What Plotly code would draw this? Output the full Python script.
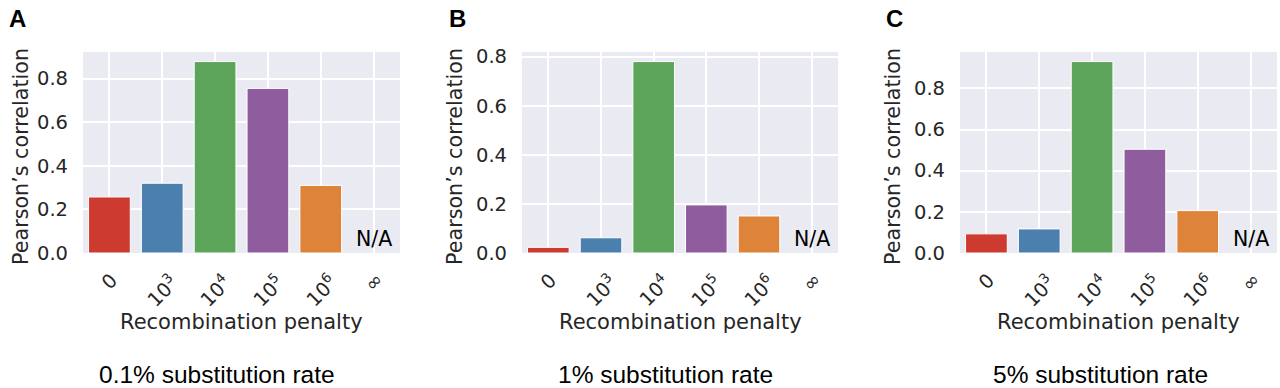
import plotly.graph_objects as go

categories = ["c0", "c1e3", "c1e4", "c1e5", "c1e6", "cinf"]
tick_labels = ["0", "10<sup>3</sup>", "10<sup>4</sup>", "10<sup>5</sup>", "10<sup>6</sup>", "∞"]
values_A = [0.257, 0.320, 0.878, 0.755, 0.310, None]
values_B = [0.023, 0.062, 0.780, 0.196, 0.151, None]
values_C = [0.093, 0.117, 0.930, 0.504, 0.206, None]
panel_letters = ["A", "B", "C"]
captions = ["0.1% substitution rate", "1% substitution rate", "5% substitution rate"]
bar_colors = ["#cd3b30", "#4b7fae", "#5da55a", "#8f5d9e", "#de843a", "#999999"]
y_ticks = [0.0, 0.2, 0.4, 0.6, 0.8]

W, H = 1280, 388
boxes = [(83, 400), (522, 838), (960, 1277)]
ytitle_x = [21, 455, 893]
caption_x = [217, 665, 1100]
letter_x = [17, 457, 894]
top_px, bot_px = 52, 253

def px(x):
    return x / W

def py(y):
    return 1 - y / H

fig = go.Figure()
dark = "#262626"
dv = "DejaVu Sans"
series = [values_A, values_B, values_C]

for i, vals in enumerate(series):
    n = i + 1
    xa = "x" if n == 1 else f"x{n}"
    ya = "y" if n == 1 else f"y{n}"
    fig.add_trace(go.Bar(
        x=categories, y=vals, xaxis=xa, yaxis=ya,
        marker=dict(color=bar_colors, line=dict(color="white", width=1)),
        width=0.79, showlegend=False, hoverinfo="y",
    ))
    vmax = max(v for v in vals if v is not None)
    l, r = boxes[i]
    xkey = "xaxis" if n == 1 else f"xaxis{n}"
    ykey = "yaxis" if n == 1 else f"yaxis{n}"
    fig.update_layout(**{
        xkey: dict(domain=[px(l), px(r)], anchor=ya, type="category",
                   categoryorder="array", categoryarray=categories, automargin=False,
                   range=[-0.5, 5.5], showgrid=True, gridcolor="white", gridwidth=1.8,
                   showticklabels=False, ticks="", zeroline=False, showline=False),
        ykey: dict(domain=[py(bot_px), py(top_px)], anchor=xa, automargin=False,
                   range=[0, vmax * 1.05], tickvals=y_ticks, tickformat=".1f",
                   showgrid=True, gridcolor="white", gridwidth=1.8, zeroline=False,
                   ticks="", ticklabelstandoff=14, showline=False,
                   tickfont=dict(family=dv, size=19.5, color=dark)),
    })
    for j, t in enumerate(tick_labels):
        fig.add_annotation(x=j, y=py(266), xref=xa, yref="paper", text=t,
                           textangle=-45, showarrow=False, xanchor="center", yanchor="top",
                           font=dict(family=dv, size=19.5, color=dark))
    for j, v in enumerate(vals):
        if v is None:
            fig.add_annotation(x=j, y=0, xref=xa, yref=ya, text="N/A", showarrow=False,
                               xanchor="center", yanchor="bottom", yshift=0,
                               font=dict(family=dv, size=20.5, color="black"))
    cx = (l + r) / 2
    fig.add_annotation(x=px(cx), y=py(322), xref="paper", yref="paper",
                       text="Recombination penalty", showarrow=False,
                       xanchor="center", yanchor="middle",
                       font=dict(family=dv, size=21, color=dark))
    fig.add_annotation(x=px(ytitle_x[i]), y=py(157), xref="paper", yref="paper",
                       text="Pearson’s correlation", showarrow=False, textangle=-90,
                       xanchor="center", yanchor="middle",
                       font=dict(family=dv, size=20.7, color=dark))
    fig.add_annotation(x=px(caption_x[i]), y=py(374), xref="paper", yref="paper",
                       text=captions[i], showarrow=False, xanchor="center", yanchor="middle",
                       font=dict(family="Liberation Sans", size=24.5, color="black"))
    fig.add_annotation(x=px(letter_x[i]), y=py(18), xref="paper", yref="paper",
                       text=f"<b>{panel_letters[i]}</b>", showarrow=False,
                       xanchor="center", yanchor="middle",
                       font=dict(family="Liberation Sans", size=24, color="black"))

fig.update_layout(template="none", width=W, height=H,
                  margin=dict(l=0, r=0, t=0, b=0, pad=0, autoexpand=False),
                  paper_bgcolor="white", plot_bgcolor="#eaeaf2")

fig.write_html("out.html", config={"displayModeBar": False},
               post_script="document.body.style.margin='0';document.body.style.overflow='hidden';")
